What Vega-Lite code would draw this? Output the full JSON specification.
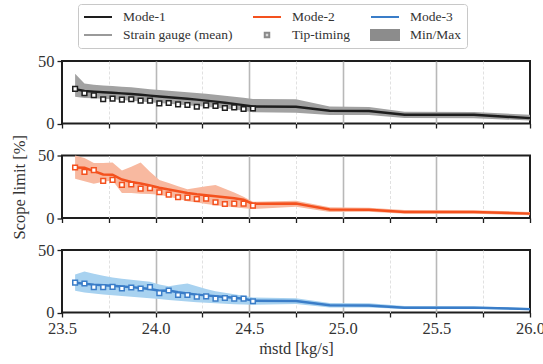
{
  "$schema": "https://vega.github.io/schema/vega-lite/v6.json",
  "background": "white",
  "padding": {"left": 10, "top": 3, "right": 0, "bottom": 0},
  "bounds": "flush",
  "spacing": 31.5,
  "config": {
    "font": "serif",
    "view": {"stroke": "#1e1e1e", "strokeWidth": 2},
    "style": {
      "guide-label": {"font": "serif"},
      "guide-title": {"font": "serif"}
    },
    "axis": {
      "labelFont": "serif", "labelFontSize": 16.5, "labelColor": "#333",
      "titleFont": "serif", "titleFontSize": 16.5, "titleColor": "#333", "titleFontWeight": "normal",
      "domain": false, "tickColor": "#1e1e1e", "tickWidth": 1.3, "labelOverlap": false, "labelFlush": false
    },
    "legend": {"labelFont": "serif"}
  },
  "datasets": {
    "lg": [
      {"entry": "Mode-1"}, {"entry": "Mode-2"}, {"entry": "Mode-3"},
      {"entry": "Strain gauge (mean)"}, {"entry": "Tip-timing"}, {"entry": "Min/Max"}
    ],
    "sg": [
      {"mode": "Mode-1", "x": 23.57, "mean": 27.5, "lo": 21.5, "hi": 39.8},
      {"mode": "Mode-1", "x": 23.62, "mean": 26.0, "lo": 20.5, "hi": 32.0},
      {"mode": "Mode-1", "x": 23.67, "mean": 25.5, "lo": 20.2, "hi": 31.0},
      {"mode": "Mode-1", "x": 23.72, "mean": 25.0, "lo": 19.8, "hi": 30.5},
      {"mode": "Mode-1", "x": 23.77, "mean": 24.6, "lo": 19.4, "hi": 30.0},
      {"mode": "Mode-1", "x": 23.82, "mean": 24.1, "lo": 18.8, "hi": 29.5},
      {"mode": "Mode-1", "x": 23.87, "mean": 23.6, "lo": 18.2, "hi": 29.0},
      {"mode": "Mode-1", "x": 23.92, "mean": 23.0, "lo": 17.6, "hi": 28.2},
      {"mode": "Mode-1", "x": 23.97, "mean": 22.3, "lo": 17.0, "hi": 27.5},
      {"mode": "Mode-1", "x": 24.02, "mean": 21.6, "lo": 16.4, "hi": 26.8},
      {"mode": "Mode-1", "x": 24.07, "mean": 21.0, "lo": 15.8, "hi": 26.2},
      {"mode": "Mode-1", "x": 24.12, "mean": 20.4, "lo": 15.2, "hi": 25.6},
      {"mode": "Mode-1", "x": 24.17, "mean": 19.8, "lo": 14.6, "hi": 25.0},
      {"mode": "Mode-1", "x": 24.22, "mean": 19.1, "lo": 14.0, "hi": 24.4},
      {"mode": "Mode-1", "x": 24.27, "mean": 18.3, "lo": 13.4, "hi": 23.8},
      {"mode": "Mode-1", "x": 24.32, "mean": 17.5, "lo": 12.7, "hi": 23.0},
      {"mode": "Mode-1", "x": 24.37, "mean": 16.6, "lo": 12.0, "hi": 22.3},
      {"mode": "Mode-1", "x": 24.42, "mean": 15.7, "lo": 11.2, "hi": 21.5},
      {"mode": "Mode-1", "x": 24.47, "mean": 14.7, "lo": 10.3, "hi": 20.6},
      {"mode": "Mode-1", "x": 24.52, "mean": 13.6, "lo": 9.0, "hi": 19.6},
      {"mode": "Mode-1", "x": 24.75, "mean": 13.4, "lo": 8.6, "hi": 19.4},
      {"mode": "Mode-1", "x": 24.93, "mean": 10.2, "lo": 6.9, "hi": 13.6},
      {"mode": "Mode-1", "x": 25.14, "mean": 10.0, "lo": 6.8, "hi": 13.3},
      {"mode": "Mode-1", "x": 25.33, "mean": 7.0, "lo": 4.4, "hi": 9.4},
      {"mode": "Mode-1", "x": 25.70, "mean": 7.0, "lo": 4.3, "hi": 9.2},
      {"mode": "Mode-1", "x": 26.00, "mean": 4.3, "lo": 2.4, "hi": 7.0},
      {"mode": "Mode-2", "x": 23.57, "mean": 40.4, "lo": 31.5, "hi": 50.0},
      {"mode": "Mode-2", "x": 23.62, "mean": 40.2, "lo": 29.5, "hi": 48.0},
      {"mode": "Mode-2", "x": 23.67, "mean": 37.5, "lo": 27.5, "hi": 44.0},
      {"mode": "Mode-2", "x": 23.72, "mean": 34.8, "lo": 29.0, "hi": 44.0},
      {"mode": "Mode-2", "x": 23.77, "mean": 34.6, "lo": 30.0, "hi": 44.5},
      {"mode": "Mode-2", "x": 23.82, "mean": 30.8, "lo": 20.0, "hi": 38.0},
      {"mode": "Mode-2", "x": 23.87, "mean": 28.8, "lo": 20.0, "hi": 41.0},
      {"mode": "Mode-2", "x": 23.92, "mean": 27.6, "lo": 19.5, "hi": 44.5},
      {"mode": "Mode-2", "x": 23.97, "mean": 26.0, "lo": 19.2, "hi": 37.0},
      {"mode": "Mode-2", "x": 24.02, "mean": 24.2, "lo": 18.6, "hi": 30.5},
      {"mode": "Mode-2", "x": 24.07, "mean": 22.8, "lo": 17.0, "hi": 28.0},
      {"mode": "Mode-2", "x": 24.12, "mean": 21.4, "lo": 15.5, "hi": 25.5},
      {"mode": "Mode-2", "x": 24.17, "mean": 20.0, "lo": 13.5, "hi": 23.0},
      {"mode": "Mode-2", "x": 24.22, "mean": 19.0, "lo": 12.5, "hi": 24.2},
      {"mode": "Mode-2", "x": 24.27, "mean": 18.2, "lo": 11.3, "hi": 25.4},
      {"mode": "Mode-2", "x": 24.32, "mean": 17.4, "lo": 10.2, "hi": 26.5},
      {"mode": "Mode-2", "x": 24.37, "mean": 16.6, "lo": 9.5, "hi": 23.5},
      {"mode": "Mode-2", "x": 24.42, "mean": 15.8, "lo": 8.7, "hi": 20.5},
      {"mode": "Mode-2", "x": 24.47, "mean": 14.6, "lo": 7.8, "hi": 17.0},
      {"mode": "Mode-2", "x": 24.52, "mean": 11.3, "lo": 7.2, "hi": 13.0},
      {"mode": "Mode-2", "x": 24.75, "mean": 11.5, "lo": 9.0, "hi": 13.8},
      {"mode": "Mode-2", "x": 24.93, "mean": 6.8, "lo": 4.9, "hi": 8.6},
      {"mode": "Mode-2", "x": 25.14, "mean": 6.6, "lo": 5.0, "hi": 8.2},
      {"mode": "Mode-2", "x": 25.33, "mean": 4.8, "lo": 3.5, "hi": 6.5},
      {"mode": "Mode-2", "x": 25.70, "mean": 4.8, "lo": 3.4, "hi": 6.3},
      {"mode": "Mode-2", "x": 26.00, "mean": 3.5, "lo": 2.3, "hi": 4.8},
      {"mode": "Mode-3", "x": 23.57, "mean": 23.8, "lo": 17.5, "hi": 30.5},
      {"mode": "Mode-3", "x": 23.62, "mean": 23.0, "lo": 16.0, "hi": 32.8},
      {"mode": "Mode-3", "x": 23.67, "mean": 22.3, "lo": 15.2, "hi": 31.0},
      {"mode": "Mode-3", "x": 23.72, "mean": 21.8, "lo": 14.5, "hi": 29.5},
      {"mode": "Mode-3", "x": 23.77, "mean": 21.4, "lo": 13.8, "hi": 28.0},
      {"mode": "Mode-3", "x": 23.82, "mean": 20.8, "lo": 13.2, "hi": 27.0},
      {"mode": "Mode-3", "x": 23.87, "mean": 20.3, "lo": 12.7, "hi": 26.2},
      {"mode": "Mode-3", "x": 23.92, "mean": 19.6, "lo": 12.0, "hi": 25.4},
      {"mode": "Mode-3", "x": 23.97, "mean": 18.8, "lo": 11.4, "hi": 24.6},
      {"mode": "Mode-3", "x": 24.02, "mean": 17.4, "lo": 10.8, "hi": 22.5},
      {"mode": "Mode-3", "x": 24.07, "mean": 17.6, "lo": 10.0, "hi": 21.0},
      {"mode": "Mode-3", "x": 24.12, "mean": 16.2, "lo": 9.4, "hi": 22.2},
      {"mode": "Mode-3", "x": 24.17, "mean": 15.2, "lo": 8.8, "hi": 23.2},
      {"mode": "Mode-3", "x": 24.22, "mean": 14.3, "lo": 8.2, "hi": 21.0},
      {"mode": "Mode-3", "x": 24.27, "mean": 13.7, "lo": 7.8, "hi": 18.8},
      {"mode": "Mode-3", "x": 24.32, "mean": 13.0, "lo": 7.4, "hi": 17.0},
      {"mode": "Mode-3", "x": 24.37, "mean": 12.4, "lo": 7.0, "hi": 15.8},
      {"mode": "Mode-3", "x": 24.42, "mean": 11.8, "lo": 6.7, "hi": 14.7},
      {"mode": "Mode-3", "x": 24.47, "mean": 11.0, "lo": 6.4, "hi": 13.5},
      {"mode": "Mode-3", "x": 24.52, "mean": 9.5, "lo": 6.2, "hi": 12.0},
      {"mode": "Mode-3", "x": 24.75, "mean": 9.2, "lo": 6.8, "hi": 11.4},
      {"mode": "Mode-3", "x": 24.93, "mean": 5.8, "lo": 4.0, "hi": 7.6},
      {"mode": "Mode-3", "x": 25.14, "mean": 5.6, "lo": 4.0, "hi": 7.4},
      {"mode": "Mode-3", "x": 25.33, "mean": 3.9, "lo": 2.8, "hi": 5.2},
      {"mode": "Mode-3", "x": 25.70, "mean": 3.9, "lo": 2.8, "hi": 5.0},
      {"mode": "Mode-3", "x": 26.00, "mean": 2.7, "lo": 1.8, "hi": 3.6}
    ],
    "tt": [
      {"mode": "Mode-1", "x": 23.57, "tip": 27.7}, {"mode": "Mode-1", "x": 23.62, "tip": 24.2},
      {"mode": "Mode-1", "x": 23.67, "tip": 22.6}, {"mode": "Mode-1", "x": 23.72, "tip": 19.4},
      {"mode": "Mode-1", "x": 23.77, "tip": 19.9}, {"mode": "Mode-1", "x": 23.82, "tip": 19.1},
      {"mode": "Mode-1", "x": 23.87, "tip": 19.4}, {"mode": "Mode-1", "x": 23.92, "tip": 18.3},
      {"mode": "Mode-1", "x": 23.97, "tip": 18.3}, {"mode": "Mode-1", "x": 24.02, "tip": 16.1},
      {"mode": "Mode-1", "x": 24.07, "tip": 16.4}, {"mode": "Mode-1", "x": 24.12, "tip": 15.3},
      {"mode": "Mode-1", "x": 24.17, "tip": 14.8}, {"mode": "Mode-1", "x": 24.22, "tip": 13.4},
      {"mode": "Mode-1", "x": 24.27, "tip": 14.5}, {"mode": "Mode-1", "x": 24.32, "tip": 14.0},
      {"mode": "Mode-1", "x": 24.37, "tip": 12.4}, {"mode": "Mode-1", "x": 24.42, "tip": 12.9},
      {"mode": "Mode-1", "x": 24.47, "tip": 11.6}, {"mode": "Mode-1", "x": 24.52, "tip": 12.0},
      {"mode": "Mode-2", "x": 23.57, "tip": 40.4}, {"mode": "Mode-2", "x": 23.62, "tip": 36.9},
      {"mode": "Mode-2", "x": 23.67, "tip": 38.3}, {"mode": "Mode-2", "x": 23.72, "tip": 29.7},
      {"mode": "Mode-2", "x": 23.77, "tip": 30.5}, {"mode": "Mode-2", "x": 23.82, "tip": 26.5},
      {"mode": "Mode-2", "x": 23.87, "tip": 26.8}, {"mode": "Mode-2", "x": 23.92, "tip": 23.5},
      {"mode": "Mode-2", "x": 23.97, "tip": 23.8}, {"mode": "Mode-2", "x": 24.02, "tip": 20.6},
      {"mode": "Mode-2", "x": 24.07, "tip": 18.7}, {"mode": "Mode-2", "x": 24.12, "tip": 16.6},
      {"mode": "Mode-2", "x": 24.17, "tip": 16.3}, {"mode": "Mode-2", "x": 24.22, "tip": 15.2},
      {"mode": "Mode-2", "x": 24.27, "tip": 15.5}, {"mode": "Mode-2", "x": 24.32, "tip": 12.6},
      {"mode": "Mode-2", "x": 24.37, "tip": 11.2}, {"mode": "Mode-2", "x": 24.42, "tip": 11.5},
      {"mode": "Mode-2", "x": 24.47, "tip": 11.5}, {"mode": "Mode-2", "x": 24.52, "tip": 9.9},
      {"mode": "Mode-3", "x": 23.57, "tip": 23.9}, {"mode": "Mode-3", "x": 23.62, "tip": 23.2},
      {"mode": "Mode-3", "x": 23.67, "tip": 20.3}, {"mode": "Mode-3", "x": 23.72, "tip": 20.3},
      {"mode": "Mode-3", "x": 23.77, "tip": 20.5}, {"mode": "Mode-3", "x": 23.82, "tip": 19.2},
      {"mode": "Mode-3", "x": 23.87, "tip": 20.0}, {"mode": "Mode-3", "x": 23.92, "tip": 19.2},
      {"mode": "Mode-3", "x": 23.97, "tip": 20.3}, {"mode": "Mode-3", "x": 24.02, "tip": 15.5},
      {"mode": "Mode-3", "x": 24.07, "tip": 17.6}, {"mode": "Mode-3", "x": 24.12, "tip": 14.0},
      {"mode": "Mode-3", "x": 24.17, "tip": 14.0}, {"mode": "Mode-3", "x": 24.22, "tip": 12.6},
      {"mode": "Mode-3", "x": 24.27, "tip": 12.9}, {"mode": "Mode-3", "x": 24.32, "tip": 11.1},
      {"mode": "Mode-3", "x": 24.37, "tip": 11.6}, {"mode": "Mode-3", "x": 24.42, "tip": 11.1},
      {"mode": "Mode-3", "x": 24.47, "tip": 11.1}, {"mode": "Mode-3", "x": 24.52, "tip": 9.0}
    ]
  },
  "vconcat": [
    {
      "width": 468, "height": 62.5,
      "layer": [
        {
          "data": {"name": "sg"}, "transform": [{"filter": "datum.mode === 'Mode-1'"}],
          "mark": {"type": "area", "color": "#a2a2a2", "opacity": 1},
          "encoding": {
            "x": {"field": "x", "type": "quantitative", "title": null, "scale": {"domain": [23.5, 26], "nice": false},
              "axis": {"values": [23.5, 23.75, 24, 24.25, 24.5, 24.75, 25, 25.25, 25.5, 25.75, 26], "labels": false, "title": null, "tickSize": 4.5,
                "gridColor": {"condition": {"test": "datum.value % 0.5 === 0", "value": "#b8b8b8"}, "value": "#dedede"},
                "gridDash": {"condition": {"test": "datum.value % 0.5 === 0", "value": []}, "value": [3, 2]},
                "gridWidth": {"condition": {"test": "datum.value % 0.5 === 0", "value": 1.6}, "value": 0.9},
                "gridOpacity": {"condition": {"test": "datum.value === 23.5 || datum.value === 26", "value": 0}, "value": 1}}},
            "y": {"field": "lo", "type": "quantitative", "title": null, "scale": {"domain": [0, 50], "nice": false},
              "axis": {"values": [0, 5, 10, 15, 20, 25, 30, 35, 40, 45, 50], "title": null, "labelPadding": 3,
                "labelExpr": "datum.value % 25 === 0 ? datum.label : ''",
                "tickSize": {"condition": {"test": "datum.value % 25 === 0", "value": 5}, "value": 3},
                "gridColor": {"condition": {"test": "datum.value % 25 === 0", "value": "#b8b8b8"}, "value": "#e0e0e0"},
                "gridDash": {"condition": {"test": "datum.value % 25 === 0", "value": []}, "value": [3, 2]},
                "gridWidth": {"condition": {"test": "datum.value % 25 === 0", "value": 1.6}, "value": 0.9},
                "gridOpacity": {"condition": {"test": "datum.value === 0 || datum.value === 50", "value": 0}, "value": 1}}},
            "y2": {"field": "hi"}
          }
        },
        {
          "data": {"name": "sg"}, "transform": [{"filter": "datum.mode === 'Mode-1'"}],
          "mark": {"type": "line", "color": "#1e1e1e", "strokeWidth": 2.5},
          "encoding": {"x": {"field": "x", "type": "quantitative", "title": null}, "y": {"field": "mean", "type": "quantitative", "title": null}}
        },
        {
          "data": {"name": "tt"}, "transform": [{"filter": "datum.mode === 'Mode-1'"}],
          "mark": {"type": "point", "shape": "square", "size": 22, "filled": true, "fill": "white", "stroke": "#1e1e1e", "strokeWidth": 1.5, "opacity": 1},
          "encoding": {"x": {"field": "x", "type": "quantitative", "title": null}, "y": {"field": "tip", "type": "quantitative", "title": null}}
        },
        {
          "data": {"name": "lg"}, "transform": [{"filter": "false"}],
          "mark": {"type": "point", "opacity": 1, "strokeWidth": 2},
          "encoding": {
            "shape": {"field": "entry", "type": "nominal",
              "scale": {"domain": ["Mode-1", "Strain gauge (mean)", "Mode-2", "Tip-timing", "Mode-3", "Min/Max"],
                "range": ["M-1,0H1", "M-1,0H1", "M-1,0H1", "M-0.16,-0.16H0.16V0.16H-0.16Z", "M-1,0H1", "M-1,-0.36H1V0.36H-1Z"]},
              "legend": {"title": null, "orient": "none", "legendX": 16, "legendY": -57, "columns": 3, "symbolSize": 784, "clipHeight": 16,
                "columnPadding": 19, "rowPadding": 2, "padding": 5, "strokeColor": "#c8c8c8", "cornerRadius": 3,
                "labelFontSize": 13.5, "labelColor": "#333", "labelOffset": 10, "symbolStrokeWidth": 2,
                "encode": {"symbols": {"update": {"strokeWidth": {"signal": "datum.value === 'Tip-timing' ? 1.3 : 2"}}}}}},
            "stroke": {"field": "entry", "type": "nominal",
              "scale": {"domain": ["Mode-1", "Strain gauge (mean)", "Mode-2", "Tip-timing", "Mode-3", "Min/Max"],
                "range": ["#1e1e1e", "#9a9a9a", "#f4511e", "#8a8a8a", "#3a7dc8", "#8c8c8c"]},
              "legend": {"title": null, "orient": "none", "legendX": 16, "legendY": -57, "columns": 3, "symbolSize": 784, "clipHeight": 16,
                "columnPadding": 19, "rowPadding": 2, "padding": 5, "strokeColor": "#c8c8c8", "cornerRadius": 3,
                "labelFontSize": 13.5, "labelColor": "#333", "labelOffset": 10, "symbolStrokeWidth": 2}},
            "fill": {"field": "entry", "type": "nominal",
              "scale": {"domain": ["Mode-1", "Strain gauge (mean)", "Mode-2", "Tip-timing", "Mode-3", "Min/Max"],
                "range": ["transparent", "transparent", "transparent", "#d9d9d9", "transparent", "#8c8c8c"]},
              "legend": {"title": null, "orient": "none", "legendX": 16, "legendY": -57, "columns": 3, "symbolSize": 784, "clipHeight": 16,
                "columnPadding": 19, "rowPadding": 2, "padding": 5, "strokeColor": "#c8c8c8", "cornerRadius": 3,
                "labelFontSize": 13.5, "labelColor": "#333", "labelOffset": 10, "symbolStrokeWidth": 2}}
          }
        }
      ]
    },
    {
      "width": 468, "height": 62.5,
      "layer": [
        {
          "data": {"name": "sg"}, "transform": [{"filter": "datum.mode === 'Mode-2'"}],
          "mark": {"type": "area", "color": "#f8b9a0", "opacity": 1},
          "encoding": {
            "x": {"field": "x", "type": "quantitative", "title": null, "scale": {"domain": [23.5, 26], "nice": false},
              "axis": {"values": [23.5, 23.75, 24, 24.25, 24.5, 24.75, 25, 25.25, 25.5, 25.75, 26], "labels": false, "title": null, "tickSize": 4.5,
                "gridColor": {"condition": {"test": "datum.value % 0.5 === 0", "value": "#b8b8b8"}, "value": "#dedede"},
                "gridDash": {"condition": {"test": "datum.value % 0.5 === 0", "value": []}, "value": [3, 2]},
                "gridWidth": {"condition": {"test": "datum.value % 0.5 === 0", "value": 1.6}, "value": 0.9},
                "gridOpacity": {"condition": {"test": "datum.value === 23.5 || datum.value === 26", "value": 0}, "value": 1}}},
            "y": {"field": "lo", "type": "quantitative", "title": "Scope limit [%]", "scale": {"domain": [0, 50], "nice": false},
              "axis": {"values": [0, 5, 10, 15, 20, 25, 30, 35, 40, 45, 50], "title": "Scope limit [%]", "titlePadding": 10, "labelPadding": 3,
                "labelExpr": "datum.value % 25 === 0 ? datum.label : ''",
                "tickSize": {"condition": {"test": "datum.value % 25 === 0", "value": 5}, "value": 3},
                "gridColor": {"condition": {"test": "datum.value % 25 === 0", "value": "#b8b8b8"}, "value": "#e0e0e0"},
                "gridDash": {"condition": {"test": "datum.value % 25 === 0", "value": []}, "value": [3, 2]},
                "gridWidth": {"condition": {"test": "datum.value % 25 === 0", "value": 1.6}, "value": 0.9},
                "gridOpacity": {"condition": {"test": "datum.value === 0 || datum.value === 50", "value": 0}, "value": 1}}},
            "y2": {"field": "hi"}
          }
        },
        {
          "data": {"name": "sg"}, "transform": [{"filter": "datum.mode === 'Mode-2'"}],
          "mark": {"type": "line", "color": "#f4511e", "strokeWidth": 2.5},
          "encoding": {"x": {"field": "x", "type": "quantitative", "title": null}, "y": {"field": "mean", "type": "quantitative", "title": "Scope limit [%]"}}
        },
        {
          "data": {"name": "tt"}, "transform": [{"filter": "datum.mode === 'Mode-2'"}],
          "mark": {"type": "point", "shape": "square", "size": 22, "filled": true, "fill": "white", "stroke": "#f4511e", "strokeWidth": 1.5, "opacity": 1},
          "encoding": {"x": {"field": "x", "type": "quantitative", "title": null}, "y": {"field": "tip", "type": "quantitative", "title": "Scope limit [%]"}}
        }
      ]
    },
    {
      "width": 468, "height": 62.5,
      "layer": [
        {
          "data": {"name": "sg"}, "transform": [{"filter": "datum.mode === 'Mode-3'"}],
          "mark": {"type": "area", "color": "#a8d2f0", "opacity": 1},
          "encoding": {
            "x": {"field": "x", "type": "quantitative", "title": "ṁstd [kg/s]", "scale": {"domain": [23.5, 26], "nice": false},
              "axis": {"values": [23.5, 23.75, 24, 24.25, 24.5, 24.75, 25, 25.25, 25.5, 25.75, 26], "title": "ṁstd [kg/s]", "tickSize": 4.5,
                "labelExpr": "datum.value % 0.5 === 0 ? format(datum.value, '.1f') : ''", "labelPadding": 3, "titlePadding": 4,
                "gridColor": {"condition": {"test": "datum.value % 0.5 === 0", "value": "#b8b8b8"}, "value": "#dedede"},
                "gridDash": {"condition": {"test": "datum.value % 0.5 === 0", "value": []}, "value": [3, 2]},
                "gridWidth": {"condition": {"test": "datum.value % 0.5 === 0", "value": 1.6}, "value": 0.9},
                "gridOpacity": {"condition": {"test": "datum.value === 23.5 || datum.value === 26", "value": 0}, "value": 1}}},
            "y": {"field": "lo", "type": "quantitative", "title": null, "scale": {"domain": [0, 50], "nice": false},
              "axis": {"values": [0, 5, 10, 15, 20, 25, 30, 35, 40, 45, 50], "title": null, "labelPadding": 3,
                "labelExpr": "datum.value % 25 === 0 ? datum.label : ''",
                "tickSize": {"condition": {"test": "datum.value % 25 === 0", "value": 5}, "value": 3},
                "gridColor": {"condition": {"test": "datum.value % 25 === 0", "value": "#b8b8b8"}, "value": "#e0e0e0"},
                "gridDash": {"condition": {"test": "datum.value % 25 === 0", "value": []}, "value": [3, 2]},
                "gridWidth": {"condition": {"test": "datum.value % 25 === 0", "value": 1.6}, "value": 0.9},
                "gridOpacity": {"condition": {"test": "datum.value === 0 || datum.value === 50", "value": 0}, "value": 1}}},
            "y2": {"field": "hi"}
          }
        },
        {
          "data": {"name": "sg"}, "transform": [{"filter": "datum.mode === 'Mode-3'"}],
          "mark": {"type": "line", "color": "#3a7dc8", "strokeWidth": 2.5},
          "encoding": {"x": {"field": "x", "type": "quantitative", "title": "ṁstd [kg/s]"}, "y": {"field": "mean", "type": "quantitative", "title": null}}
        },
        {
          "data": {"name": "tt"}, "transform": [{"filter": "datum.mode === 'Mode-3'"}],
          "mark": {"type": "point", "shape": "square", "size": 22, "filled": true, "fill": "white", "stroke": "#3a7dc8", "strokeWidth": 1.5, "opacity": 1},
          "encoding": {"x": {"field": "x", "type": "quantitative", "title": "ṁstd [kg/s]"}, "y": {"field": "tip", "type": "quantitative", "title": null}}
        }
      ]
    }
  ]
}
